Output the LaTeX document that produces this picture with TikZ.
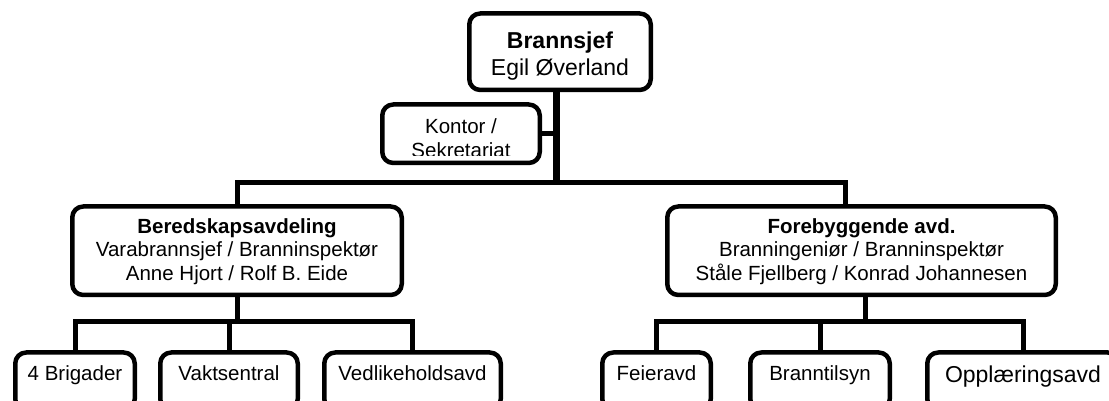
\documentclass[tikz,border=0pt]{standalone}
\usepackage{fontspec}
\setmainfont{Liberation Sans}
\begin{document}
\begin{tikzpicture}[line join=bevel,
  box/.style={draw=black,line width=4.5bp,rounded corners=11bp,inner sep=0pt,anchor=north,align=center},
  leaf/.style={box,small,text height=27.75bp,text depth=29.75bp},
  link/.style={black,line width=5bp,line join=miter},
  big/.style={font=\fontsize{23bp}{27bp}\selectfont},
  small/.style={font=\fontsize{20.5bp}{23.5bp}\selectfont},
]
%%
\useasboundingbox (0bp,0bp) rectangle (1109bp,401bp);
\node (node_0) at (560bp,389.75bp) [box,big,minimum width=181.5bp,text height=61.75bp,text depth=14.75bp] {\textbf{Brannsjef}\\Egil Øverland};
\node (node_1) at (461bp,298.75bp) [box,minimum width=157.5bp,minimum height=58.5bp] {};
\begin{scope}
  \clip (node_1.north west) rectangle ([yshift=10bp]node_1.south east);
  \node (node_1_text) at (node_1.north) [anchor=north,small,inner sep=0pt,align=center,text height=55bp,text depth=3.5bp] {Kontor /\\Sekretariat};
\end{scope}
\node (node_2) at (237bp,196.75bp) [box,small,minimum width=329.5bp,text height=73.75bp,text depth=14.75bp] {\textbf{Beredskapsavdeling}\\Varabrannsjef / Branninspektør\\Anne Hjort / Rolf B. Eide};
\node (node_3) at (861.5bp,196.75bp) [box,small,minimum width=388.5bp,text height=73.75bp,text depth=14.75bp] {\textbf{Forebyggende avd.}\\Branningeniør / Branninspektør\\Ståle Fjellberg / Konrad Johannesen};
\node (node_4) at (75bp,50.75bp) [leaf,minimum width=119.5bp] {4 Brigader};
\node (node_5) at (229bp,50.75bp) [leaf,minimum width=137.5bp] {Vaktsentral};
\node (node_6) at (412.5bp,50.75bp) [leaf,minimum width=176.5bp] {Vedlikeholdsavd};
\node (node_7) at (656.5bp,50.75bp) [leaf,minimum width=108.5bp] {Feieravd};
\node (node_8) at (820bp,50.75bp) [leaf,minimum width=139.5bp] {Branntilsyn};
\node (node_9) at (1023bp,50.75bp) [leaf,big,minimum width=191.5bp,text height=29.75bp,text depth=27.75bp] {Opplæringsavd};
%
\coordinate (bus_0) at (556bp,218bp);
\coordinate (bus_1) at (845bp,218bp);
\coordinate (bus_2) at (237bp,79bp);
\coordinate (bus_3) at (865bp,79bp);
\draw [link,line width=7bp] (node_0.south -| bus_0) -- (bus_0);
\draw [link] (node_1.east) -- (node_1.east -| bus_0);
\draw [link] (node_2.north) |- (bus_1) -- (bus_1 |- node_3.north);
\draw [link] (node_2.south) -- (bus_2);
\draw [link] (node_4.north) |- (bus_2) -| (node_6.north);
\draw [link] (node_5.north) -- (node_5.north |- bus_2);
\draw [link] (node_3.south -| bus_3) -- (bus_3);
\draw [link] (node_7.north) |- (bus_3) -| (node_9.north);
\draw [link] (node_8.north) -- (node_8.north |- bus_3);
%
\end{tikzpicture}
\end{document}
